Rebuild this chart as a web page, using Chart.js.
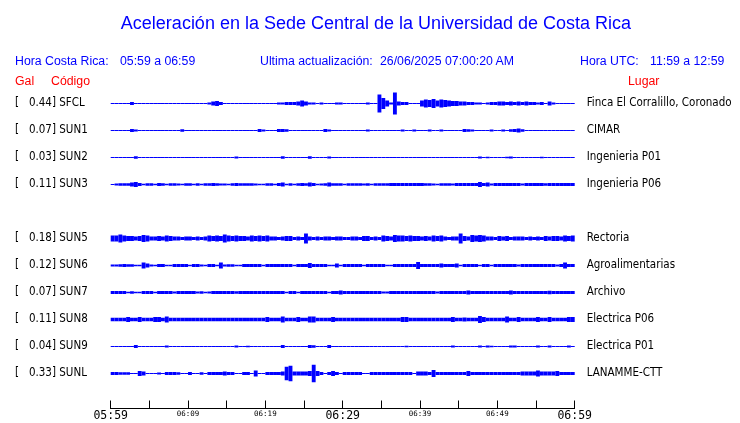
<!DOCTYPE html>
<html>
<head>
<meta charset="utf-8">
<script src="https://cdn.jsdelivr.net/npm/chart.js@4.4.1/dist/chart.umd.min.js"></script>
<style>
    html, body { margin: 0; padding: 0; background: #fff; }
    #wrap { position: relative; width: 740px; height: 423px; overflow: hidden; }
    #wrap canvas { position: absolute; left: 0; top: 0; }
    .txt { position: absolute; font-family: "Liberation Sans", Arial, sans-serif; line-height: 1; white-space: pre; transform: translateY(-50%); }
    .blue { color: #0000ff; font-size: 12.3px; }
    .red { color: #ff0000; font-size: 12.3px; }
    .title { color: #0000ff; font-size: 18px; left: 0; width: 752px; text-align: center; }
</style>
</head>
<body>
<div id="wrap">
    <canvas id="chart" width="740" height="423"></canvas>
    <div class="txt title" style="top:23px">Aceleración en la Sede Central de la Universidad de Costa Rica</div>
    <div class="txt blue" style="left:15px;top:61px">Hora Costa Rica:</div>
    <div class="txt blue" style="left:120px;top:61px">05:59 a 06:59</div>
    <div class="txt blue" style="left:260px;top:61px">Ultima actualización:</div>
    <div class="txt blue" style="left:380px;top:61px">26/06/2025 07:00:20 AM</div>
    <div class="txt blue" style="left:580px;top:61px">Hora UTC:</div>
    <div class="txt blue" style="left:650px;top:61px">11:59 a 12:59</div>
    <div class="txt red" style="left:15px;top:81px">Gal</div>
    <div class="txt red" style="left:51px;top:81px">Código</div>
    <div class="txt red" style="left:628px;top:81px">Lugar</div>
</div>
<script>
// stations, top to bottom (slot 4 = SUN4, not shown)
const CODES = ['SFCL', 'SUN1', 'SUN2', 'SUN3', 'SUN5', 'SUN6', 'SUN7', 'SUN8', 'SUN9', 'SUNL'];
const PEAK_GAL = [0.44, 0.07, 0.03, 0.11, 0.18, 0.12, 0.07, 0.11, 0.04, 0.33];
const PLACES = ['Finca El Corralillo, Coronado', 'CIMAR', 'Ingenieria P01', 'Ingenieria P06', 'Rectoria',
    'Agroalimentarias', 'Archivo', 'Electrica P06', 'Electrica P01', 'LANAMME-CTT'];
const SLOTS = [0, 1, 2, 3, 5, 6, 7, 8, 9, 10];

// time axis: minutes after 05:59, labels every 10 min
const TIME_LABELS = ['05:59', '06:09', '06:19', '06:29', '06:39', '06:49', '06:59'];
const BIN_MIN = 0.5; // each value below covers 30 s

// envelope (half amplitude, Gal) of each record, 120 values of 30 s
const SFCL = [
    .02,.02,.02,.02,.02,.06,.02,.02,.02,.02, .02,.02,.02,.02,.02,.02,.02,.02,.02,.02,
    .02,.02,.02,.02,.02,.04,.08,.10,.06,.02, .02,.02,.02,.02,.02,.02,.02,.02,.02,.02,
    .02,.02,.02,.04,.04,.06,.06,.06,.08,.12, .08,.04,.04,.02,.04,.02,.02,.02,.04,.04,
    .02,.02,.02,.02,.02,.02,.04,.02,.02,.36, .22,.12,.04,.44,.08,.06,.06,.02,.02,.02,
    .12,.16,.14,.18,.12,.16,.14,.12,.10,.10, .08,.08,.06,.06,.04,.04,.02,.04,.06,.06,
    .08,.08,.06,.08,.06,.08,.06,.08,.06,.06, .04,.06,.02,.08,.04,.02,.02,.02,.02,.02];
const SUN1 = [
    .02,.02,.02,.02,.02,.06,.04,.02,.02,.02, .02,.02,.02,.02,.02,.02,.02,.02,.05,.02,
    .02,.02,.02,.02,.02,.02,.02,.02,.02,.02, .02,.02,.02,.02,.02,.02,.02,.02,.06,.04,
    .02,.02,.02,.06,.06,.05,.02,.02,.02,.02, .02,.02,.02,.02,.02,.06,.04,.02,.02,.02,
    .02,.02,.02,.02,.02,.02,.04,.02,.02,.02, .02,.02,.02,.02,.02,.04,.02,.02,.04,.02,
    .02,.02,.04,.02,.02,.04,.02,.02,.02,.02, .02,.06,.05,.04,.02,.02,.02,.02,.04,.02,
    .02,.04,.02,.05,.06,.08,.05,.02,.02,.02, .02,.02,.02,.02,.02,.02,.02,.02,.02,.02];
const SUN2 = [
    .02,.02,.02,.02,.02,.02,.05,.02,.02,.02, .02,.02,.02,.02,.02,.02,.02,.02,.02,.02,
    .02,.02,.02,.02,.02,.02,.02,.02,.02,.02, .02,.02,.04,.02,.02,.02,.02,.02,.02,.02,
    .02,.02,.02,.02,.05,.02,.02,.02,.02,.02, .02,.05,.02,.02,.02,.02,.04,.02,.02,.02,
    .02,.02,.02,.02,.02,.02,.02,.02,.02,.02, .02,.02,.02,.02,.02,.02,.02,.02,.02,.02,
    .02,.02,.02,.02,.02,.02,.02,.02,.02,.02, .02,.02,.02,.02,.02,.04,.02,.03,.02,.02,
    .02,.02,.03,.04,.02,.02,.02,.02,.02,.02, .02,.03,.02,.02,.02,.02,.02,.02,.02,.02];
const SUN3 = [
    .02,.04,.05,.05,.05,.08,.10,.06,.03,.05, .05,.03,.06,.05,.03,.05,.05,.04,.03,.05,
    .05,.03,.05,.03,.05,.05,.06,.05,.04,.04, .03,.05,.06,.05,.05,.05,.05,.04,.03,.03,
    .05,.05,.03,.06,.08,.03,.05,.03,.05,.06, .05,.08,.06,.03,.04,.05,.08,.05,.05,.05,
    .03,.05,.05,.05,.05,.04,.05,.03,.05,.05, .05,.05,.06,.06,.06,.06,.06,.06,.06,.06,
    .06,.05,.05,.04,.03,.05,.05,.05,.04,.06, .06,.06,.06,.06,.06,.10,.06,.08,.04,.06,
    .06,.06,.06,.06,.06,.06,.04,.06,.06,.06, .06,.06,.05,.06,.06,.06,.06,.06,.06,.06];
const SUN5 = [
    .12,.12,.16,.12,.10,.10,.08,.10,.14,.12, .08,.08,.10,.08,.12,.10,.08,.08,.06,.08,
    .08,.06,.08,.06,.08,.12,.10,.12,.10,.16, .12,.10,.12,.10,.10,.08,.12,.10,.12,.10,
    .12,.08,.08,.06,.08,.10,.10,.06,.08,.06, .20,.08,.06,.08,.06,.08,.08,.06,.08,.08,
    .06,.06,.08,.08,.06,.10,.10,.06,.08,.06, .12,.10,.08,.14,.12,.12,.10,.12,.10,.10,
    .08,.10,.08,.12,.10,.12,.08,.06,.08,.08, .20,.10,.08,.14,.12,.14,.12,.08,.08,.06,
    .10,.08,.10,.06,.08,.08,.08,.06,.08,.06, .08,.06,.10,.08,.10,.10,.08,.12,.10,.12];
const SUN6 = [
    .04,.04,.05,.06,.05,.05,.03,.03,.12,.08, .04,.03,.06,.06,.03,.03,.06,.06,.06,.06,
    .03,.06,.06,.04,.03,.06,.06,.03,.12,.04, .05,.05,.03,.03,.06,.06,.06,.06,.06,.03,
    .06,.06,.06,.06,.06,.06,.06,.03,.06,.06, .06,.10,.06,.06,.06,.06,.03,.03,.08,.03,
    .06,.06,.06,.06,.06,.03,.06,.06,.06,.06, .06,.03,.03,.06,.06,.06,.06,.06,.06,.14,
    .06,.06,.06,.06,.06,.08,.06,.06,.06,.08, .03,.06,.06,.06,.06,.03,.06,.06,.03,.06,
    .06,.06,.06,.06,.06,.04,.06,.06,.06,.06, .06,.06,.06,.06,.06,.04,.06,.12,.06,.06];
const SUN7 = [
    .06,.06,.06,.06,.03,.05,.03,.03,.06,.06, .06,.03,.06,.06,.06,.06,.04,.06,.06,.06,
    .06,.06,.04,.05,.03,.04,.06,.06,.06,.06, .06,.06,.05,.06,.06,.06,.06,.06,.06,.06,
    .06,.06,.06,.06,.06,.03,.06,.06,.03,.06, .06,.06,.06,.06,.06,.06,.03,.06,.06,.08,
    .06,.06,.06,.06,.06,.06,.06,.06,.06,.06, .04,.04,.06,.06,.06,.06,.06,.06,.06,.06,
    .06,.06,.06,.06,.04,.06,.06,.06,.06,.06, .06,.06,.08,.06,.06,.06,.06,.06,.06,.06,
    .06,.06,.06,.08,.06,.06,.06,.06,.06,.06, .06,.06,.06,.07,.06,.06,.06,.06,.06,.06];
const SUN8 = [
    .07,.07,.07,.07,.10,.07,.07,.10,.07,.07, .07,.10,.10,.07,.12,.07,.07,.07,.07,.07,
    .07,.07,.07,.07,.07,.07,.07,.07,.07,.07, .07,.07,.07,.07,.07,.07,.07,.07,.07,.07,
    .10,.07,.07,.07,.12,.07,.07,.07,.10,.07, .07,.12,.12,.07,.07,.07,.07,.10,.07,.07,
    .07,.07,.07,.07,.07,.07,.07,.07,.07,.07, .07,.07,.07,.07,.07,.10,.10,.07,.07,.07,
    .07,.07,.07,.07,.07,.07,.07,.07,.10,.07, .07,.08,.07,.07,.07,.14,.10,.07,.07,.07,
    .07,.07,.12,.07,.07,.10,.07,.07,.07,.07, .10,.07,.07,.10,.07,.07,.07,.07,.10,.10];
const SUN9 = [
    .02,.02,.02,.02,.02,.02,.06,.02,.02,.02, .02,.02,.02,.02,.04,.02,.02,.02,.02,.02,
    .02,.02,.02,.02,.02,.02,.02,.02,.02,.02, .02,.02,.04,.02,.02,.03,.02,.02,.02,.02,
    .02,.02,.02,.02,.06,.02,.02,.02,.02,.02, .02,.06,.05,.02,.02,.02,.06,.02,.02,.02,
    .02,.02,.02,.02,.02,.02,.02,.02,.02,.02, .02,.02,.02,.02,.02,.02,.03,.02,.02,.02,
    .02,.02,.02,.02,.02,.02,.02,.02,.04,.02, .02,.02,.02,.02,.02,.04,.02,.04,.03,.02,
    .02,.02,.02,.04,.04,.02,.02,.02,.02,.02, .04,.02,.02,.04,.02,.02,.02,.02,.04,.02];
const SUNL = [
    .06,.06,.05,.05,.05,.02,.02,.10,.08,.02, .02,.02,.04,.02,.06,.06,.06,.05,.02,.02,
    .06,.02,.02,.05,.02,.06,.06,.06,.06,.08, .06,.06,.02,.02,.06,.06,.02,.12,.02,.02,
    .06,.06,.06,.06,.08,.27,.31,.08,.08,.08, .08,.10,.35,.10,.06,.02,.06,.10,.06,.02,
    .06,.06,.06,.06,.06,.02,.02,.06,.06,.06, .06,.06,.06,.06,.06,.06,.06,.06,.02,.08,
    .08,.08,.06,.14,.06,.06,.06,.06,.06,.06, .06,.06,.10,.06,.06,.06,.06,.06,.06,.06,
    .06,.06,.06,.06,.06,.06,.08,.08,.08,.08, .12,.08,.08,.08,.08,.10,.06,.06,.06,.06];

const RECORDS = [SFCL, SUN1, SUN2, SUN3, SUN5, SUN6, SUN7, SUN8, SUN9, SUNL];

// vertical layout: one slot every 27 px, 0.04 Gal per px
const GAL_PER_SLOT = 1.08;
const AREA_TOP = 90, AREA_BOTTOM = 408.5, AREA_LEFT = 110.7, AREA_RIGHT = 574.7;
const SLOT_PX = 27, FIRST_SLOT_PX = 103.5;
const Y_MAX = (FIRST_SLOT_PX - AREA_TOP) / SLOT_PX * GAL_PER_SLOT;
const Y_MIN = Y_MAX - (AREA_BOTTOM - AREA_TOP) / SLOT_PX * GAL_PER_SLOT;
const slotValue = (s) => -s * GAL_PER_SLOT;

const datasets = RECORDS.map((rec, k) => {
    const c = slotValue(SLOTS[k]);
    return {
        label: CODES[k],
        data: rec.map((a, i) => ({ x: (i + 0.5) * BIN_MIN, y: [c - a, c + a] })),
        backgroundColor: '#0000ff',
        borderWidth: 0,
        inflateAmount: 0,
        grouped: false,
        barPercentage: 1,
        categoryPercentage: 1,
        clip: false
    };
});

const slotTicks = (scale) => {
    scale.ticks = SLOTS.map(s => ({ value: slotValue(s) }));
};
// keep the label columns from pushing the plot area around
const fixSide = (width) => (scale) => {
    scale.width = width;
    scale.paddingTop = 0;
    scale.paddingBottom = 0;
};
const labelFont = { family: "'DejaVu Sans Condensed', 'DejaVu Sans'", size: 11.5 };

new Chart(document.getElementById('chart'), {
    type: 'bar',
    data: { datasets: datasets },
    options: {
        responsive: false,
        animation: false,
        events: [],
        layout: { padding: { top: AREA_TOP, left: 15, right: 0, bottom: 0 } },
        plugins: { legend: { display: false }, tooltip: { enabled: false } },
        scales: {
            x: {
                type: 'linear',
                min: 0,
                max: 60,
                offset: false,
                grid: { offset: false, drawOnChartArea: false, drawTicks: true, tickLength: -8, color: '#000', tickColor: '#000', lineWidth: 1 },
                border: { display: true, color: '#000', width: 1 },
                ticks: {
                    stepSize: 5,
                    autoSkip: false,
                    maxRotation: 0,
                    padding: 6,
                    color: '#000',
                    font: (ctx) => {
                        const big = ctx.tick && ctx.tick.value % 30 === 0;
                        return { family: 'DejaVu Sans Mono', size: big ? 11.5 : 7.5, lineHeight: big ? '20px' : '16px' };
                    },
                    callback: (v) => (v % 10 === 0 ? TIME_LABELS[v / 10] : '')
                },
                afterFit: (scale) => { scale.height = 423 - AREA_BOTTOM; }
            },
            y: {
                type: 'linear',
                position: 'left',
                min: Y_MIN,
                max: Y_MAX,
                grid: { display: false, drawTicks: false },
                border: { display: false },
                afterBuildTicks: slotTicks,
                ticks: {
                    crossAlign: 'far',
                    padding: 0,
                    color: '#000',
                    font: labelFont,
                    callback: (v, i) => '[   ' + PEAK_GAL[i].toFixed(2) + '] ' + CODES[i]
                },
                afterFit: fixSide(AREA_LEFT - 15)
            },
            y2: {
                type: 'linear',
                position: 'right',
                min: Y_MIN,
                max: Y_MAX,
                grid: { display: false, drawTicks: false },
                border: { display: false },
                afterBuildTicks: slotTicks,
                ticks: {
                    crossAlign: 'near',
                    padding: 12,
                    color: '#000',
                    font: labelFont,
                    callback: (v, i) => PLACES[i]
                },
                afterFit: fixSide(740 - AREA_RIGHT)
            }
        }
    }
});
</script>
</body>
</html>
